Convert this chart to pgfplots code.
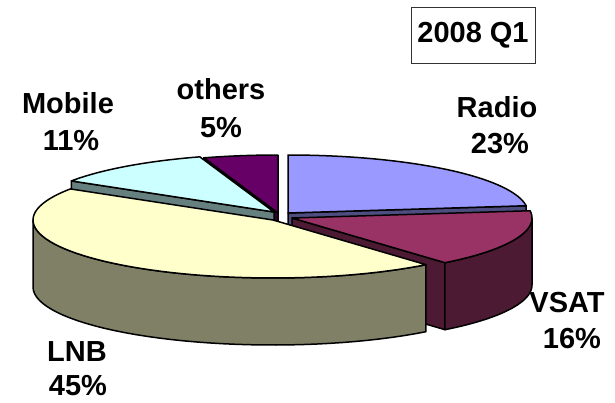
\documentclass[border=0pt]{standalone}
\usepackage{fontspec}
\setmainfont{Liberation Sans}
\usepackage{pgfplots}
\pgfplotsset{compat=1.18}
\definecolor{radioT}{HTML}{9999FF}
\definecolor{radioS}{HTML}{4D4D80}
\definecolor{vsatT}{HTML}{993366}
\definecolor{vsatS}{HTML}{4D1A33}
\definecolor{lnbT}{HTML}{FFFFCC}
\definecolor{lnbS}{HTML}{808066}
\definecolor{mobT}{HTML}{CCFFFF}
\definecolor{mobS}{HTML}{668080}
\definecolor{othT}{HTML}{660066}
\definecolor{othS}{HTML}{330033}
% shares (percent)
\def\pRadio{23}\def\pVSAT{16}\def\pLNB{45}\def\pMobile{11}\def\pOthers{5}
\pgfmathsetmacro\aR{3.6*\pRadio}
\pgfmathsetmacro\aV{\aR+3.6*\pVSAT}
\pgfmathsetmacro\aL{\aV+3.6*\pLNB}
\pgfmathsetmacro\aM{\aL+3.6*\pMobile}
\pgfmathsetmacro\aO{\aM+3.6*\pOthers}
\def\RX{240}\def\RY{58}\def\D{67}
\newcommand\TopFace[5]{%
\addplot[fill=#5, draw=black, line width=1.5pt, line join=round, variable=\t, domain=0:2, samples=121]
 ({#1 + (1-max(\t-1,0))*\RX*sin(#3+(#4-#3)*min(\t,1))},
  {#2 - (1-max(\t-1,0))*\RY*cos(#3+(#4-#3)*min(\t,1))}) -- cycle;}
\newcommand\Wall[5]{%
\addplot[fill=#5, draw=black, line width=1.5pt, line join=round, variable=\t, domain=0:3, samples=121]
 ({#1 + \RX*sin(#3+(#4-#3)*(min(\t,1)-max(\t-2,0)))},
  {#2 - \RY*cos(#3+(#4-#3)*(min(\t,1)-max(\t-2,0))) + \D*min(max(\t-1,0),1)}) -- cycle;}
\newcommand\Face[4]{%
\addplot[fill=#4, draw=black, line width=1.5pt, line join=round, variable=\t, domain=0:3, samples=4]
 ({#1 + (min(\t,1)-max(\t-2,0))*\RX*sin(#3)},
  {#2 - (min(\t,1)-max(\t-2,0))*\RY*cos(#3) + \D*min(max(\t-1,0),1)}) -- cycle;}
\newcommand\lbl{\fontsize{29}{35}\selectfont\bfseries}
\begin{document}
\begin{tikzpicture}
\begin{axis}[x=1pt, y=1pt, xmin=0, xmax=615, ymin=0, ymax=402, y dir=reverse,
  hide axis, clip=false, scale only axis]
\addplot[draw=none] coordinates {(0,0) (615,402)};
% others
\Face{278}{213}{\aM}{othS}
\TopFace{278}{213}{\aM}{\aO}{othT}
% mobile
\Face{274}{212}{\aL}{mobS}
\TopFace{274}{212}{\aL}{\aM}{mobT}
% radio
\Face{288}{213}{\aR}{radioS}
\TopFace{288}{213}{0}{\aR}{radioT}
% vsat
\Face{292}{218}{\aV}{vsatS}
\Wall{292}{218}{90}{\aV}{vsatS}
\TopFace{292}{218}{\aR}{\aV}{vsatT}
% lnb
\Wall{273}{220}{\aV}{270}{lnbS}
\TopFace{273}{220}{\aV}{\aL}{lnbT}
% labels
\node[anchor=base, font=\lbl] at (axis cs:497,117) {Radio};
\node[anchor=base, font=\lbl] at (axis cs:500,153) {23\%};
\node[anchor=base, font=\lbl] at (axis cs:567,312) {VSAT};
\node[anchor=base, font=\lbl] at (axis cs:572,348) {16\%};
\node[anchor=base, font=\lbl] at (axis cs:77,361) {LNB};
\node[anchor=base, font=\lbl] at (axis cs:78,395) {45\%};
\node[anchor=base, font=\lbl] at (axis cs:68,113) {Mobile};
\node[anchor=base, font=\lbl] at (axis cs:71,150) {11\%};
\node[anchor=base, font=\lbl] at (axis cs:221,99) {others};
\node[anchor=base, font=\lbl] at (axis cs:221,137) {5\%};
\node[draw=black!80, line width=0.8pt, minimum width=124pt, minimum height=56pt, inner sep=0pt, font=\lbl] at (axis cs:473,35) {2008 Q1};
\end{axis}
\end{tikzpicture}
\end{document}
